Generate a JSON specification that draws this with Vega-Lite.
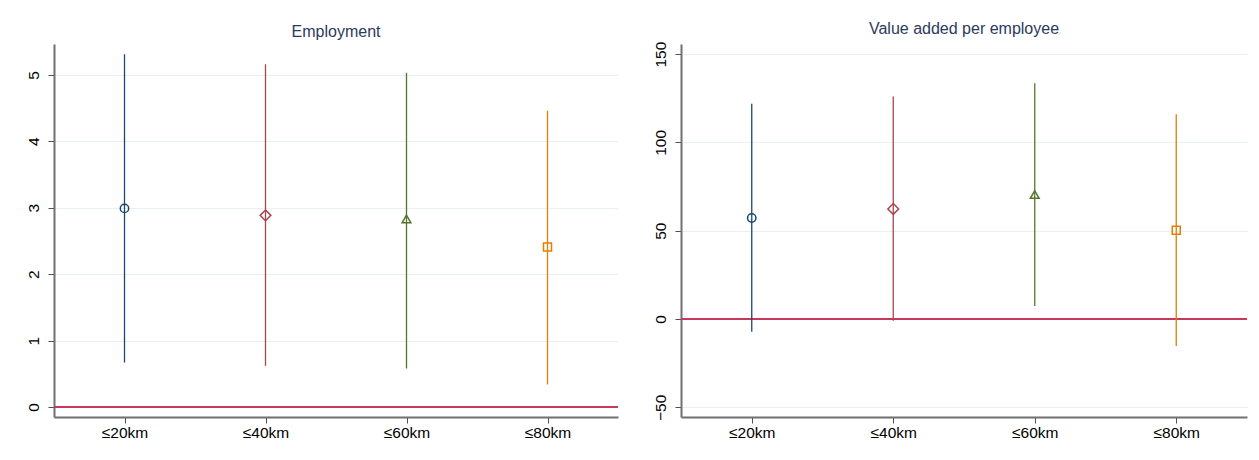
{
  "$schema": "https://vega.github.io/schema/vega-lite/v6.json",
  "background": "white",
  "padding": {"left": 26, "top": 21, "right": 5, "bottom": 5},
  "spacing": 34,
  "config": {
    "font": "Liberation Sans",
    "view": {"stroke": null},
    "axis": {
      "labelFont": "Liberation Sans",
      "labelFontSize": 15.5,
      "labelColor": "#000000",
      "domainColor": "#707070",
      "domainWidth": 2,
      "tickColor": "#505050",
      "tickSize": 6,
      "tickWidth": 1,
      "gridColor": "#e8f0f2",
      "gridWidth": 1,
      "title": null
    },
    "title": {"font": "Liberation Sans", "fontSize": 16, "fontWeight": "normal", "color": "#2b3a5e", "anchor": "middle", "offset": 4}
  },
  "datasets": {
    "est": [
      {"panel": "Employment", "dist": "≤20km", "est": 2.99, "lo": 0.67, "hi": 5.31},
      {"panel": "Employment", "dist": "≤40km", "est": 2.885, "lo": 0.62, "hi": 5.16},
      {"panel": "Employment", "dist": "≤60km", "est": 2.83, "lo": 0.58, "hi": 5.03},
      {"panel": "Employment", "dist": "≤80km", "est": 2.41, "lo": 0.34, "hi": 4.46},
      {"panel": "VA", "dist": "≤20km", "est": 57.2, "lo": -7.2, "hi": 121.8},
      {"panel": "VA", "dist": "≤40km", "est": 62.3, "lo": -1.0, "hi": 126.0},
      {"panel": "VA", "dist": "≤60km", "est": 70.5, "lo": 7.4, "hi": 133.5},
      {"panel": "VA", "dist": "≤80km", "est": 50.2, "lo": -15.3, "hi": 115.9}
    ],
    "zero": [{"y": 0}]
  },
  "hconcat": [
    {
      "title": "Employment",
      "width": 564,
      "height": 373,
      "layer": [
        {
          "data": {"name": "zero"},
          "mark": {"type": "rule", "color": "#c8385a", "strokeWidth": 2},
          "encoding": {"y": {"field": "y", "type": "quantitative"}}
        },
        {
          "data": {"name": "est"},
          "transform": [{"filter": "datum.panel === 'Employment'"}],
          "mark": {"type": "rule", "strokeWidth": 1.3},
          "encoding": {
            "x": {"field": "dist", "type": "ordinal", "scale": {"type": "point", "padding": 0.5}, "axis": {"labelAngle": 0, "labelPadding": 2}},
            "y": {"field": "lo", "type": "quantitative", "scale": {"domain": [-0.15, 5.464], "nice": false, "zero": false}, "axis": {"values": [0, 1, 2, 3, 4, 5], "format": "d", "labelAngle": -90, "labelPadding": 7, "grid": true}},
            "y2": {"field": "hi"},
            "color": {"field": "dist", "type": "nominal", "scale": {"domain": ["≤20km", "≤40km", "≤60km", "≤80km"], "range": ["#1a476f", "#a8464d", "#55752f", "#e37e00"]}, "legend": null}
          }
        },
        {
          "data": {"name": "est"},
          "transform": [{"filter": "datum.panel === 'Employment'"}],
          "mark": {"type": "point", "filled": false, "strokeWidth": 1.5, "opacity": 1},
          "encoding": {
            "x": {"field": "dist", "type": "ordinal"},
            "y": {"field": "est", "type": "quantitative"},
            "color": {"field": "dist", "type": "nominal", "legend": null},
            "shape": {"field": "dist", "type": "nominal", "scale": {"domain": ["≤20km", "≤40km", "≤60km", "≤80km"], "range": ["circle", "diamond", "triangle-up", "square"]}, "legend": null},
            "size": {"field": "dist", "type": "nominal", "scale": {"type": "ordinal", "domain": ["≤20km", "≤40km", "≤60km", "≤80km"], "range": [70, 115, 78, 64]}, "legend": null}
          }
        }
      ]
    },
    {
      "title": "Value added per employee",
      "width": 566,
      "height": 373,
      "layer": [
        {
          "data": {"name": "zero"},
          "mark": {"type": "rule", "color": "#c8385a", "strokeWidth": 2},
          "encoding": {"y": {"field": "y", "type": "quantitative"}}
        },
        {
          "data": {"name": "est"},
          "transform": [{"filter": "datum.panel === 'VA'"}],
          "mark": {"type": "rule", "strokeWidth": 1.3},
          "encoding": {
            "x": {"field": "dist", "type": "ordinal", "scale": {"type": "point", "padding": 0.5}, "axis": {"labelAngle": 0, "labelPadding": 2}},
            "y": {"field": "lo", "type": "quantitative", "scale": {"domain": [-55.5, 155.7], "nice": false, "zero": false}, "axis": {"values": [-50, 0, 50, 100, 150], "labelAngle": -90, "labelPadding": 7, "grid": true}},
            "y2": {"field": "hi"},
            "color": {"field": "dist", "type": "nominal", "scale": {"domain": ["≤20km", "≤40km", "≤60km", "≤80km"], "range": ["#1a476f", "#a8464d", "#55752f", "#e37e00"]}, "legend": null}
          }
        },
        {
          "data": {"name": "est"},
          "transform": [{"filter": "datum.panel === 'VA'"}],
          "mark": {"type": "point", "filled": false, "strokeWidth": 1.5, "opacity": 1},
          "encoding": {
            "x": {"field": "dist", "type": "ordinal"},
            "y": {"field": "est", "type": "quantitative"},
            "color": {"field": "dist", "type": "nominal", "legend": null},
            "shape": {"field": "dist", "type": "nominal", "scale": {"domain": ["≤20km", "≤40km", "≤60km", "≤80km"], "range": ["circle", "diamond", "triangle-up", "square"]}, "legend": null},
            "size": {"field": "dist", "type": "nominal", "scale": {"type": "ordinal", "domain": ["≤20km", "≤40km", "≤60km", "≤80km"], "range": [70, 115, 78, 64]}, "legend": null}
          }
        }
      ]
    }
  ],
  "resolve": {"scale": {"y": "independent", "x": "independent"}}
}
